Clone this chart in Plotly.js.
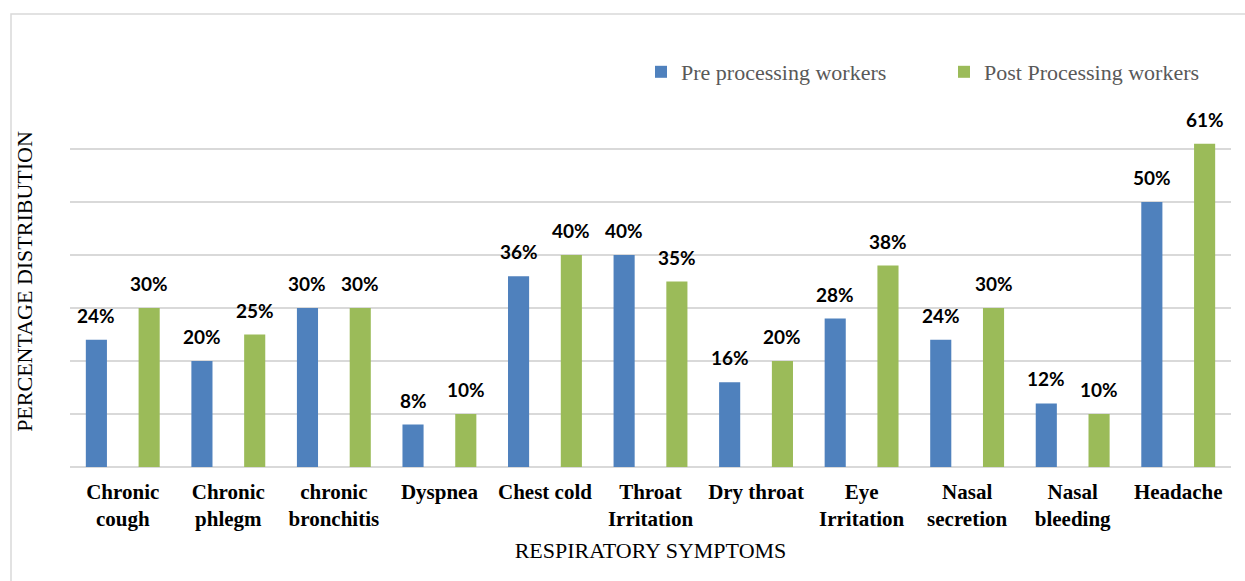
<!DOCTYPE html>
<html>
<head>
<meta charset="utf-8">
<script src="https://cdn.plot.ly/plotly-3.0.1.min.js"></script>
<style>
html,body{margin:0;padding:0;background:#fff;overflow:hidden;}
#chart{width:1245px;height:581px;}
</style>
</head>
<body>
<div id="chart"></div>
<script>
const categories = ["Chronic<br>cough","Chronic<br>phlegm","chronic<br>bronchitis","Dyspnea","Chest cold","Throat<br>Irritation","Dry throat","Eye<br>Irritation","Nasal<br>secretion","Nasal<br>bleeding","Headache"];
const preValues = [24,20,30,8,36,40,16,28,24,12,50];
const postValues = [30,25,30,10,40,35,20,38,30,10,61];
const seriesNames = ["Pre processing workers","Post Processing workers"];
const seriesColors = ["#4f81bd","#9bbb59"];

const serif = "'Liberation Serif', 'Times New Roman', serif";
const labelFont = {family:"Lato, 'Open Sans', sans-serif", size:19, color:"#000", weight:"bold"};
const legendFont = {family:serif, size:22, color:"#595959"};

const traces = [
  {type:"bar", name:seriesNames[0], x:categories, y:preValues, marker:{color:seriesColors[0]}, legend:"legend"},
  {type:"bar", name:seriesNames[1], x:categories, y:postValues, marker:{color:seriesColors[1]}, legend:"legend2"}
];

// value labels above bars (offset to each bar's centre within the group)
const annotations = [];
[preValues, postValues].forEach((vals, s) => {
  vals.forEach((v, i) => {
    annotations.push({x:categories[i], y:v, xref:"x", yref:"y", text:v + "%", showarrow:false,
      yanchor:"bottom", xanchor:"center", xshift:(s === 0 ? -26.4 : 26.4), yshift:11, font:labelFont});
  });
});

const layout = {
  width:1245, height:581,
  margin:{l:70, r:14, t:96, b:114},
  paper_bgcolor:"#fff", plot_bgcolor:"#fff",
  barmode:"group", bargap:0, bargroupgap:0.6,
  showlegend:true,
  legend:{orientation:"h", x:(641-70)/1161, xanchor:"left", y:(467-72)/371, yanchor:"middle",
          font:legendFont, itemwidth:30, bgcolor:"rgba(0,0,0,0)"},
  legend2:{orientation:"h", x:(944-70)/1161, xanchor:"left", y:(467-72)/371, yanchor:"middle",
          font:legendFont, itemwidth:30, bgcolor:"rgba(0,0,0,0)"},
  xaxis:{tickfont:{family:serif, size:21, color:"#000", weight:"bold"},
         showline:false, ticks:"", zeroline:false, automargin:false, ticklabelstandoff:10,
         title:{text:"RESPIRATORY SYMPTOMS", font:{family:serif, size:22, color:"#000"}, standoff:12}},
  yaxis:{range:[0,70], dtick:10, showticklabels:false, ticks:"", gridcolor:"#d9d9d9", gridwidth:1.3,
         zeroline:true, zerolinecolor:"#d9d9d9", zerolinewidth:1.5, automargin:false,
         title:{text:"PERCENTAGE DISTRIBUTION", font:{family:serif, size:22, color:"#000"}, standoff:30}},
  annotations:annotations,
  shapes:[{type:"rect", xref:"paper", yref:"paper", x0:(11-70)/1161, x1:(1260-70)/1161, y0:(467-600)/371, y1:(467-14)/371,
           line:{color:"#d9d9d9", width:1.5}, fillcolor:"rgba(0,0,0,0)", layer:"below"}]
};

Plotly.newPlot("chart", traces, layout, {displayModeBar:false, staticPlot:true});
</script>
</body>
</html>
